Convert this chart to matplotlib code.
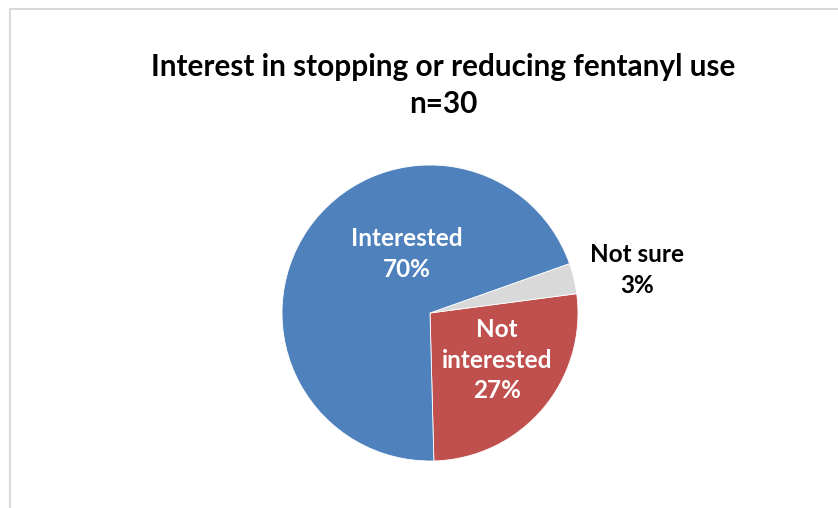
import matplotlib.pyplot as plt
from matplotlib.patches import Rectangle

plt.rcParams['font.family'] = ['Lato', 'DejaVu Sans']

# data (n=30 respondents)
categories = ['Not interested', 'Not sure', 'Interested']
counts = [8, 1, 21]
pct_labels = ['27%', '3%', '70%']
colors = ['#C0504D', '#D9D9D9', '#4F81BD']

W, H = 838, 508
fig = plt.figure(figsize=(W / 100, H / 100), dpi=100)

# chart area frame (runs off the right and bottom edge like the original)
fig.patches.append(Rectangle((9.5 / W, -0.1), 1.2, (H - 9.5) / H + 0.1,
                             transform=fig.transFigure, fill=False,
                             edgecolor='#D9D9D9', linewidth=1.5))

fig.text(443 / W, 1 - 67 / H, 'Interest in stopping or reducing fentanyl use',
         ha='center', va='center', fontsize=21.4, fontweight='bold')
fig.text(443 / W, 1 - 104 / H, 'n=30',
         ha='center', va='center', fontsize=21.4, fontweight='bold')

cx, cy, r = 430, 313, 148
ax = fig.add_axes([(cx - r) / W, (H - cy - r) / H, 2 * r / W, 2 * r / H])
ax.pie(counts, colors=colors, startangle=-88.5, counterclock=True,
       wedgeprops=dict(edgecolor='white', linewidth=0.6))
ax.set_xlim(-1, 1)
ax.set_ylim(-1, 1)


def px(x, y):
    # image pixel -> data coords of the pie axes
    return (x - cx) / r, (cy - y) / r


lab_style = dict(ha='center', va='center', fontsize=17.5, fontweight='bold',
                 linespacing=1.4)
ax.text(*px(407, 254), categories[2] + '\n' + pct_labels[2], color='white', **lab_style)
ax.text(*px(497, 360), 'Not\ninterested\n' + pct_labels[0], color='white', **lab_style)
ax.text(*px(637, 270), categories[1] + '\n' + pct_labels[1], color='black',
        clip_on=False, **lab_style)

fig.savefig('out.png', dpi=100)
